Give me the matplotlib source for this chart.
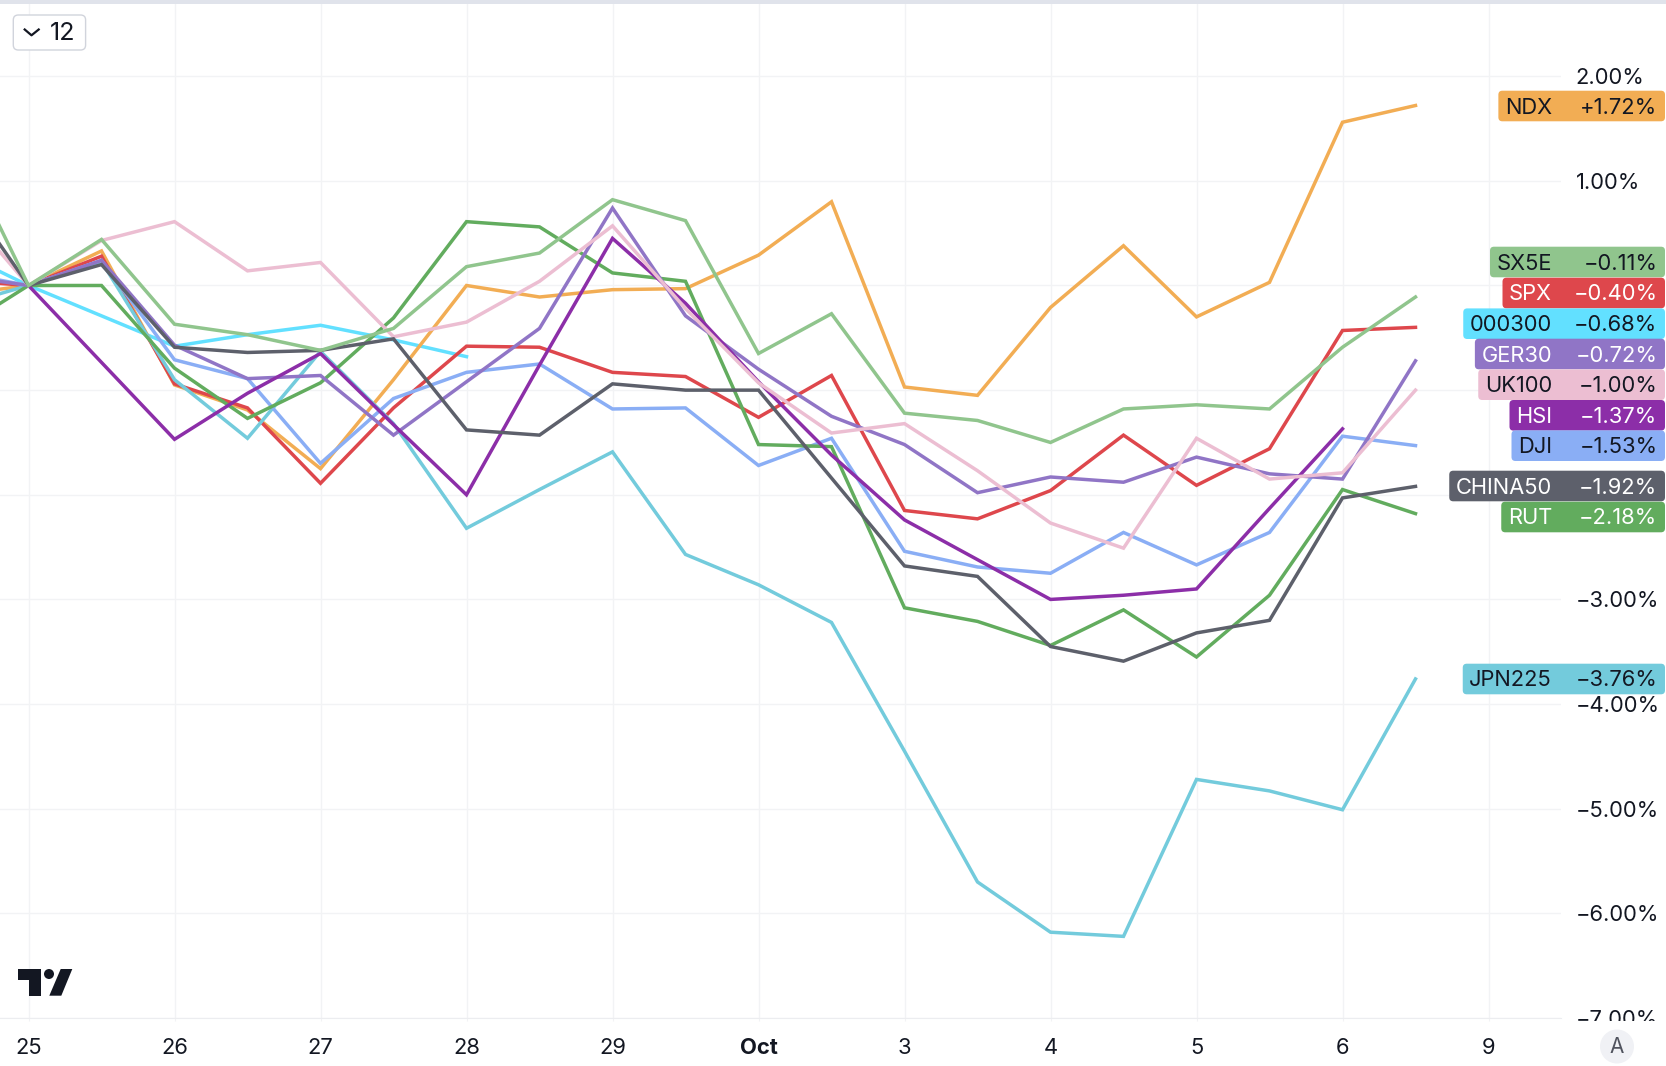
import matplotlib
matplotlib.use("Agg")
import matplotlib.pyplot as plt
from matplotlib.patches import FancyBboxPatch, Polygon, Circle, Rectangle

plt.rcParams['font.family'] = ['Inter', 'DejaVu Sans']

# trading day positions: 0 = 25, 1 = 26 ... half steps are intraday closes
full_x = [-0.5, 0, 0.5, 1, 1.5, 2, 2.5, 3, 3.5, 4, 4.5, 5, 5.5, 6, 6.5, 7, 7.5, 8, 8.5, 9, 9.5]

ndx = [-0.09, 0, 0.33, -0.95, -1.19, -1.75, -0.90, 0.0, -0.11, -0.04, -0.03, 0.29, 0.80, -0.97, -1.05, -0.21, 0.38, -0.30, 0.03, 1.56, 1.72]
sx5e = [1.43, 0, 0.44, -0.37, -0.47, -0.62, -0.41, 0.18, 0.31, 0.82, 0.62, -0.65, -0.27, -1.22, -1.29, -1.50, -1.18, -1.14, -1.18, -0.59, -0.11]
spx = [0.05, 0, 0.28, -0.94, -1.17, -1.89, -1.17, -0.58, -0.59, -0.83, -0.87, -1.26, -0.86, -2.15, -2.23, -1.96, -1.43, -1.91, -1.56, -0.43, -0.40]
ger30 = [0.10, 0, 0.24, -0.57, -0.89, -0.86, -1.43, -0.92, -0.41, 0.74, -0.29, -0.80, -1.25, -1.52, -1.98, -1.83, -1.88, -1.64, -1.80, -1.85, -0.72]
uk100 = [0.82, 0, 0.43, 0.61, 0.14, 0.22, -0.49, -0.35, 0.04, 0.57, -0.22, -0.93, -1.41, -1.32, -1.77, -2.27, -2.51, -1.46, -1.85, -1.79, -1.00]
dji = [0.13, 0, 0.24, -0.71, -0.89, -1.70, -1.08, -0.83, -0.75, -1.18, -1.17, -1.72, -1.46, -2.54, -2.69, -2.75, -2.36, -2.67, -2.36, -1.44, -1.53]
rut = [-0.44, 0, -0.00, -0.79, -1.27, -0.93, -0.31, 0.61, 0.56, 0.12, 0.04, -1.52, -1.54, -3.08, -3.21, -3.44, -3.10, -3.55, -2.96, -1.95, -2.18]
jpn225 = [-0.20, 0, 0.23, -0.90, -1.46, -0.63, -1.32, -2.32, -1.95, -1.59, -2.57, -2.86, -3.22, -4.45, -5.70, -6.18, -6.22, -4.72, -4.83, -5.01, -3.76]

# these ones skip the sessions where their market was shut
a300_x = [-0.5, 0, 1, 1.5, 2, 2.5, 3]
a300 = [0.34, 0, -0.58, -0.47, -0.38, -0.52, -0.68]
hsi_x = [0, 1, 1.5, 2, 2.5, 3, 3.5, 4, 4.5, 5, 5.5, 6, 6.5, 7, 7.5, 8, 8.5, 9]
hsi = [0, -1.47, -1.03, -0.65, -1.33, -2.00, -0.76, 0.45, -0.17, -0.92, -1.62, -2.24, -2.62, -3.00, -2.96, -2.90, -2.13, -1.37]
china50_x = [-0.5, 0, 0.5, 1, 1.5, 2, 2.5, 3, 3.5, 4, 4.5, 5, 6, 6.5, 7, 7.5, 8, 8.5, 9, 9.5]
china50 = [1.00, 0, 0.20, -0.59, -0.64, -0.62, -0.51, -1.38, -1.43, -0.94, -1.00, -1.00, -2.68, -2.78, -3.45, -3.59, -3.32, -3.20, -2.03, -1.92]

y_ticks = [2, 1, 0, -1, -2, -3, -4, -5, -6, -7]
y_tick_labels = ['2.00%', '1.00%', '', '', '', '\u22123.00%', '\u22124.00%', '\u22125.00%', '\u22126.00%', '\u22127.00%']
x_ticks = [0, 1, 2, 3, 4, 5, 6, 7, 8, 9, 10]
x_tick_labels = ['25', '26', '27', '28', '29', 'Oct', '3', '4', '5', '6', '9']

# draw order, bottom first
series = [
    (a300_x, a300, '#62E0FF'),
    (full_x, ndx, '#F2AD54'),
    (full_x, spx, '#DE474C'),
    (full_x, jpn225, '#73CBDC'),
    (full_x, dji, '#8AAEF5'),
    (full_x, rut, '#62AC5E'),
    (full_x, ger30, '#9075C6'),
    (hsi_x, hsi, '#8C2EA8'),
    (full_x, uk100, '#ECBED2'),
    (china50_x, china50, '#5D606B'),
    (full_x, sx5e, '#90C58D'),
]

# name, last value, colour, text colour, badge centre in pixels from the top
badges = [
    ('NDX', ndx[-1], '#F2AD54', '#131722', 106),
    ('SX5E', sx5e[-1], '#90C58D', '#131722', 262),
    ('SPX', spx[-1], '#DE474C', 'white', 293),
    ('000300', a300[-1], '#62E0FF', '#131722', 323.7),
    ('GER30', ger30[-1], '#9075C6', 'white', 354),
    ('UK100', uk100[-1], '#ECBED2', '#131722', 384.7),
    ('HSI', hsi[-1], '#8C2EA8', 'white', 415.3),
    ('DJI', dji[-1], '#8AAEF5', '#131722', 445.7),
    ('CHINA50', china50[-1], '#5D606B', 'white', 486),
    ('RUT', rut[-1], '#62AC5E', 'white', 517),
    ('JPN225', jpn225[-1], '#73CBDC', '#131722', 679),
]

W, H = 1666, 1066
DAY = 146.0
GRID = '#F2F3F5'
TEXT = '#131722'
FS = 15.8

fig = plt.figure(figsize=(W / 100, H / 100), dpi=100, facecolor='white')
ax = fig.add_axes([0, (H - 1018) / H, 1561 / W, (1018 - 4) / H])
ax.set_xlim(-28.5 / DAY, (1561 - 28.5) / DAY)
ax.set_ylim(-7.0, 2.69)

for xs, ys, c in series:
    ax.plot(xs, ys, color=c, lw=2.5, solid_joinstyle='miter', zorder=3)

ax.set_xticks(x_ticks)
ax.set_xticklabels(x_tick_labels, fontsize=FS, color=TEXT)
ax.get_xticklabels()[5].set_fontweight('bold')
ax.yaxis.tick_right()
ax.set_yticks(y_ticks)
ax.set_yticklabels(y_tick_labels, fontsize=FS, color=TEXT)
ax.tick_params(axis='y', length=0, pad=10.5)
ax.tick_params(axis='x', length=2.2, color=GRID, pad=12.5)
ax.grid(True, color=GRID, lw=1)
ax.set_axisbelow(True)
for s in ax.spines.values():
    s.set_visible(False)
ax.spines['bottom'].set_visible(True)
ax.spines['bottom'].set_color('#ECEDF0')

# overlay in pixel coordinates for the bits around the chart
ov = fig.add_axes([0, 0, 1, 1], zorder=5)
ov.set_xlim(0, W)
ov.set_ylim(H, 0)
ov.axis('off')
ov.patch.set_alpha(0)

ov.add_patch(Rectangle((0, 0), W, 3.5, color='#E0E3EB', lw=0))
# the lowest price label is cut by the edge of the pane
ov.add_patch(Rectangle((1561, 1021), W - 1561, H - 1021, color='white', lw=0))

# interval button
ov.add_patch(FancyBboxPatch((17.3, 19), 64.3, 27, boxstyle='round,pad=4,rounding_size=5',
                            fc='white', ec='#D1D4DC', lw=1))
ov.plot([24.7, 31.5, 38.7], [29.5, 35.3, 29.5], color=TEXT, lw=1.6)
ov.text(63, 33, '12', fontsize=18, color=TEXT, ha='center', va='center')

# logo
ov.add_patch(Polygon([(18.3, 969), (40.7, 969), (40.7, 995.7), (29.3, 995.7), (29.3, 980), (18.3, 980)],
                     fc=TEXT, lw=0))
ov.add_patch(Circle((49, 974), 5, fc=TEXT, lw=0))
ov.add_patch(Polygon([(60.7, 969), (72.3, 969), (61.3, 995.7), (49.3, 995.7)], fc=TEXT, lw=0))

# auto scale button
ov.add_patch(Circle((1617, 1046.5), 17, fc='#F0F1F5', lw=0))
ov.text(1617, 1047, 'A', fontsize=15, color='#50535E', ha='center', va='center')

renderer = fig.canvas.get_renderer()
for name, val, c, tc, yc in badges:
    label = ov.text(1552, yc + 1.5, name, fontsize=FS, color=tc, ha='right', va='center', zorder=7)
    sign = '+' if val > 0 else '\u2212'
    ov.text(1657.5, yc + 1.5, '%s%.2f%%' % (sign, abs(val)), fontsize=FS, color=tc, ha='right', va='center', zorder=7)
    left = 1552 - label.get_window_extent(renderer).width - 6.5
    ov.add_patch(FancyBboxPatch((left + 3, yc - 12.3), 1665 - left - 6, 24.6,
                                boxstyle='round,pad=3,rounding_size=4', fc=c, ec='none', zorder=6))

fig.savefig('out.png', dpi=100)
